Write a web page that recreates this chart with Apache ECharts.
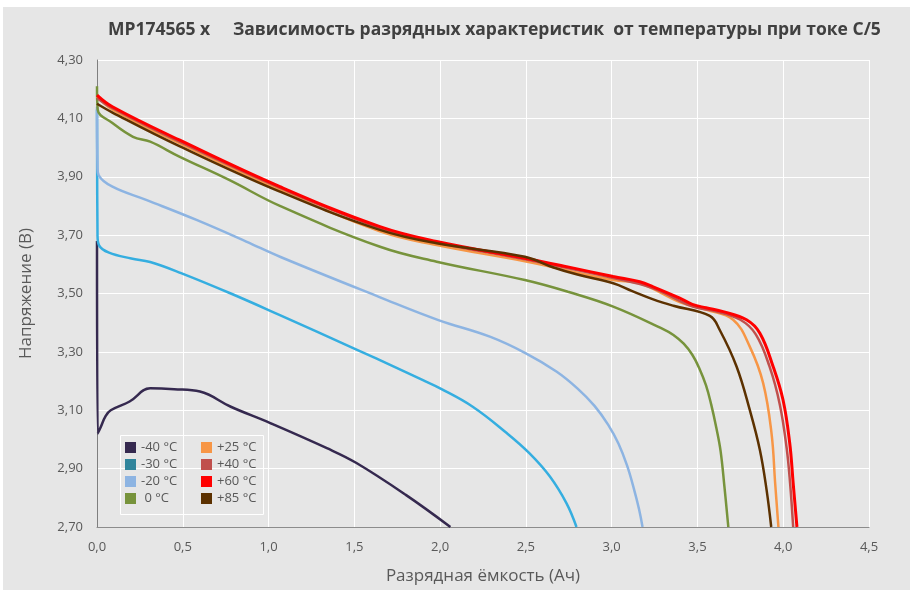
<!DOCTYPE html>
<html>
<head>
<meta charset="utf-8">
<script src="https://cdn.jsdelivr.net/npm/echarts@6/dist/echarts.min.js"></script>
<style>
html,body{margin:0;padding:0;background:#ffffff;width:910px;height:590px;overflow:hidden;}
#c{position:absolute;left:3px;top:7px;width:907px;height:583px;}
</style>
</head>
<body>
<div id="c"></div>
<script>
var seriesNames = ['-40 °C', '-30 °C', '-20 °C', ' 0 °C', '+25 °C', '+40 °C', '+60 °C', '+85 °C'];
var xTicks = [0, 0.5, 1.0, 1.5, 2.0, 2.5, 3.0, 3.5, 4.0, 4.5];
var yTicks = [2.7, 2.9, 3.1, 3.3, 3.5, 3.7, 3.9, 4.1, 4.3];

var tM40 = [[0,3.68],[0.004,3.02],[0.02,3.04],[0.05,3.08],[0.08,3.10],[0.19,3.13],[0.31,3.175],[0.45,3.172],[0.6,3.164],[0.78,3.112],[1.01,3.056],[1.34,2.97],[1.51,2.92],[1.8,2.81],[2.06,2.70]];
var tM30 = [[0,4.13],[0.003,3.70],[0.012,3.665],[0.07,3.64],[0.2,3.62],[0.31,3.608],[0.49,3.57],[0.78,3.50],[1.066,3.426],[1.49,3.314],[1.649,3.272],[1.9,3.203],[2.0,3.175],[2.19,3.112],[2.39,3.021],[2.52,2.953],[2.64,2.873],[2.737,2.781],[2.795,2.70]];
var tM20 = [[0,4.14],[0.003,3.93],[0.01,3.905],[0.09,3.866],[0.29,3.82],[0.58,3.752],[0.87,3.678],[1.07,3.625],[1.65,3.487],[1.99,3.409],[2.29,3.352],[2.5,3.295],[2.68,3.232],[2.80,3.175],[2.90,3.115],[2.98,3.05],[3.04,2.985],[3.09,2.91],[3.13,2.83],[3.16,2.76],[3.18,2.70]];
var t0 = [[0,4.21],[0.004,4.13],[0.09,4.084],[0.21,4.037],[0.31,4.02],[0.48,3.969],[0.77,3.889],[1.066,3.80],[1.65,3.66],[1.98,3.609],[2.494,3.546],[2.75,3.505],[3.009,3.455],[3.3,3.378],[3.36,3.358],[3.42,3.328],[3.47,3.29],[3.51,3.245],[3.55,3.185],[3.58,3.12],[3.61,3.04],[3.635,2.96],[3.657,2.84],[3.68,2.70]];
var tP25 = [[0,4.175],[0.09,4.13],[0.48,4.015],[1.066,3.855],[1.649,3.713],[1.98,3.666],[2.494,3.61],[3.009,3.546],[3.164,3.535],[3.4,3.47],[3.553,3.444],[3.708,3.41],[3.805,3.318],[3.883,3.193],[3.932,3.02],[3.953,2.85],[3.972,2.70]];
var tP40 = [[0,4.17],[0.09,4.135],[0.48,4.02],[1.066,3.862],[1.649,3.725],[1.98,3.675],[2.494,3.617],[3.009,3.553],[3.242,3.518],[3.473,3.455],[3.6,3.44],[3.75,3.41],[3.84,3.36],[3.92,3.25],[3.98,3.12],[4.02,2.97],[4.04,2.85],[4.058,2.70]];
var tP60 = [[0,4.18],[0.09,4.14],[0.48,4.026],[1.066,3.866],[1.649,3.729],[1.98,3.678],[2.494,3.621],[2.737,3.592],[3.009,3.558],[3.164,3.54],[3.242,3.523],[3.397,3.484],[3.47,3.463],[3.55,3.451],[3.65,3.438],[3.786,3.41],[3.864,3.364],[3.941,3.25],[3.999,3.135],[4.038,2.987],[4.058,2.85],[4.08,2.70]];
var tP85 = [[0,4.15],[0.09,4.12],[0.48,4.005],[1.066,3.849],[1.649,3.718],[1.98,3.672],[2.494,3.626],[2.657,3.59],[2.8,3.565],[3.009,3.535],[3.12,3.508],[3.242,3.48],[3.36,3.458],[3.572,3.423],[3.63,3.375],[3.728,3.25],[3.805,3.101],[3.864,2.964],[3.903,2.827],[3.93,2.70]];

var seriesData = [tM40, tM30, tM20, t0, tP25, tP40, tP60, tP85];
var legendColors = ['#35294F', '#31859C', '#8DB4E2', '#77933C', '#F79646', '#C0504D', '#FF0000', '#5C3100'];
var lineColors   = ['#35294F', '#35AEE0', '#8DB4E2', '#77933C', '#F79646', '#C0504D', '#FF0000', '#5C3100'];
var lineWidths   = [2.5, 2.5, 2.5, 2.5, 2.5, 2.5, 3, 2.5];

var FONT = '"Open Sans", "Noto Sans", sans-serif';

var chart = echarts.init(document.getElementById('c'));
var series = seriesNames.map(function (n, i) {
  return {
    name: n,
    type: 'line',
    data: seriesData[i],
    showSymbol: false,
    symbol: 'none',
    smooth: 0.4,
    itemStyle: { color: legendColors[i] },
    lineStyle: { color: lineColors[i], width: lineWidths[i] },
    emphasis: { disabled: true },
    animation: false
  };
});

function legendCol(names, left) {
  return {
    orient: 'vertical',
    left: left,
    top: 434,
    padding: 0,
    itemGap: 4,
    itemWidth: 11,
    itemHeight: 11,
    itemTextGap: 4,
    icon: 'rect',
    selectedMode: false,
    data: names.map(function (n) {
      var i = seriesNames.indexOf(n);
      return { name: n, itemStyle: { color: legendColors[i] } };
    }),
    textStyle: { fontFamily: FONT, fontSize: 13, color: '#595959' }
  };
}

chart.setOption({
  backgroundColor: '#E6E6E6',
  animation: false,
  title: {
    text: 'MP174565 x     Зависимость разрядных характеристик  от температуры при токе С/5',
    left: 100,
    top: 9,
    textStyle: { fontFamily: FONT, fontSize: 17.5, fontWeight: 'bold', color: '#404040' }
  },
  grid: { left: 94, right: 41, top: 53, bottom: 63, containLabel: false },
  graphic: [{
    type: 'rect',
    left: 115, top: 426,
    shape: { width: 143, height: 79 },
    style: { fill: 'none', stroke: '#FFFFFF', lineWidth: 1 },
    z: 1
  }],
  legend: [
    legendCol(seriesNames.slice(0, 4), 122),
    legendCol(seriesNames.slice(4, 8), 198)
  ],
  xAxis: {
    type: 'value',
    min: xTicks[0],
    max: xTicks[xTicks.length - 1],
    interval: 0.5,
    name: 'Разрядная ёмкость (Ач)',
    nameLocation: 'middle',
    nameGap: 41,
    nameTextStyle: { fontFamily: FONT, fontSize: 17, color: '#595959' },
    axisLine: { show: true, onZero: false, lineStyle: { color: '#8C8C8C', width: 1 } },
    axisTick: { show: false },
    axisLabel: {
      margin: 14, fontFamily: FONT, fontSize: 13, color: '#595959',
      formatter: function (v) { return v.toFixed(1).replace('.', ','); }
    },
    splitLine: { show: true, lineStyle: { color: '#FFFFFF', width: 1 } }
  },
  yAxis: {
    type: 'value',
    min: yTicks[0],
    max: yTicks[yTicks.length - 1],
    interval: 0.2,
    name: 'Напряжение (В)',
    nameLocation: 'middle',
    nameGap: 62,
    nameTextStyle: { fontFamily: FONT, fontSize: 17, color: '#595959' },
    axisLine: { show: true, onZero: false, lineStyle: { color: '#7F7F7F', width: 1 } },
    axisTick: { show: false },
    axisLabel: {
      margin: 14, fontFamily: FONT, fontSize: 13, color: '#595959',
      formatter: function (v) { return v.toFixed(2).replace('.', ','); }
    },
    splitLine: { show: true, lineStyle: { color: '#FFFFFF', width: 1 } }
  },
  series: series
});
</script>
</body>
</html>
